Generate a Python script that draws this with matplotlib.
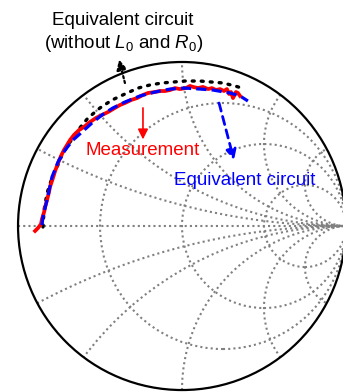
import numpy as np
import matplotlib
matplotlib.use("Agg")
import matplotlib.pyplot as plt
from matplotlib.patches import Circle

plt.rcParams['font.family'] = ['Liberation Sans', 'DejaVu Sans']
plt.rcParams['mathtext.fontset'] = 'custom'
plt.rcParams['mathtext.rm'] = 'Liberation Sans'
plt.rcParams['mathtext.it'] = 'Liberation Sans:italic'

# Smith chart grid values
r_circles = [1 / 3, 1, 3]
x_arcs = [0.25, 0.5, 1, 2, 4]

# reflection coefficient (real, imag)
meas_re = [-0.896, -0.878, -0.860, -0.854, -0.841, -0.835, -0.823, -0.811, -0.805, -0.787,
           -0.774, -0.756, -0.738, -0.720, -0.701, -0.683, -0.659, -0.628, -0.598, -0.561,
           -0.524, -0.488, -0.451, -0.409, -0.378, -0.348, -0.311, -0.274, -0.238, -0.207,
           -0.165, -0.134, -0.104, -0.073, -0.043, -0.012, 0.024, 0.049, 0.067, 0.098,
           0.128, 0.159, 0.183, 0.207, 0.232, 0.256, 0.274, 0.287, 0.299, 0.311,
           0.323, 0.329, 0.341, 0.354]
meas_im = [-0.030, -0.012, 0.012, 0.043, 0.085, 0.116, 0.159, 0.207, 0.238, 0.293,
           0.335, 0.384, 0.427, 0.463, 0.494, 0.524, 0.555, 0.585, 0.604, 0.634,
           0.659, 0.677, 0.695, 0.720, 0.738, 0.750, 0.768, 0.780, 0.799, 0.811,
           0.817, 0.823, 0.823, 0.829, 0.841, 0.835, 0.841, 0.854, 0.848, 0.841,
           0.848, 0.835, 0.841, 0.829, 0.835, 0.823, 0.835, 0.805, 0.817, 0.780,
           0.805, 0.817, 0.811, 0.793]

eq_re = [-0.854, -0.848, -0.823, -0.793, -0.756, -0.713, -0.665, -0.610, -0.549, -0.488,
         -0.421, -0.348, -0.256, -0.165, -0.073, 0.018, 0.110, 0.189, 0.293, 0.354, 0.402]
eq_im = [0.006, 0.055, 0.159, 0.299, 0.390, 0.463, 0.524, 0.573, 0.628, 0.677,
         0.720, 0.756, 0.793, 0.817, 0.835, 0.841, 0.835, 0.829, 0.811, 0.793, 0.762]

noL0_re = [-0.848, -0.841, -0.823, -0.793, -0.762, -0.732, -0.683, -0.634, -0.573, -0.500,
           -0.427, -0.348, -0.268, -0.195, -0.122, 0.018, 0.110, 0.250, 0.323, 0.384]
noL0_im = [-0.006, 0.098, 0.201, 0.293, 0.360, 0.433, 0.512, 0.585, 0.659, 0.720,
           0.768, 0.805, 0.841, 0.860, 0.872, 0.884, 0.884, 0.872, 0.854, 0.835]

fig = plt.figure(figsize=(3.43, 3.92), dpi=100)
ax = fig.add_axes([0, 0, 1, 1])
ax.set_xlim(-1.110, 0.982)
ax.set_ylim(-1.012, 1.378)
ax.axis('off')

grid_kw = dict(fill=False, ec='#808080', lw=1.5, ls=(0, (1, 1.5)))
unit = Circle((0, 0), 1, transform=ax.transData, fill=False)

for r in r_circles:
    ax.add_patch(Circle((r / (1 + r), 0), 1 / (1 + r), **grid_kw))
for x in x_arcs:
    for s in (1, -1):
        c = Circle((1, s / x), 1 / x, **grid_kw)
        ax.add_patch(c)
        c.set_clip_path(unit)
ax.plot([-1, 1], [0, 0], color='#808080', lw=1.5, ls=(0, (1, 1.5)))

ax.add_patch(Circle((0, 0), 1, fill=False, ec='black', lw=1.6, zorder=3))

ax.plot(noL0_re, noL0_im, color='black', lw=2.4, ls=(0, (0.6, 2.1)),
        dash_capstyle='round', zorder=4)
ax.plot(meas_re, meas_im, color='red', lw=2.7, zorder=5)
ax.plot(eq_re, eq_im, color='blue', lw=2.3, ls=(0, (3.2, 1.6)), zorder=6)

# pointers to each trace
ax.annotate('', xy=(-0.384, 1.015), xytext=(-0.348, 0.872),
            arrowprops=dict(arrowstyle='-|>,head_length=0.6,head_width=0.3',
                            color='black', lw=1.6, ls=(0, (1, 1.2)),
                            shrinkA=0, shrinkB=0))
ax.annotate('', xy=(-0.238, 0.528), xytext=(-0.238, 0.720),
            arrowprops=dict(arrowstyle='-|>,head_length=0.6,head_width=0.3',
                            color='red', lw=1.2, shrinkA=0, shrinkB=0))
ax.annotate('', xy=(0.317, 0.402), xytext=(0.226, 0.750),
            arrowprops=dict(arrowstyle='-|>,head_length=0.6,head_width=0.3',
                            color='blue', lw=2.0, ls=(0, (3, 2)),
                            shrinkA=0, shrinkB=0))

ax.text(-0.360, 1.256, 'Equivalent circuit', fontsize=13.5, ha='center', va='center')
ax.text(-0.355, 1.112, r'(without $L_0$ and $R_0$)', fontsize=13.5,
        ha='center', va='center')
ax.text(-0.238, 0.463, 'Measurement', color='red', fontsize=13.5,
        ha='center', va='center')
ax.text(0.384, 0.280, 'Equivalent circuit', color='blue', fontsize=13.5,
        ha='center', va='center')

fig.savefig('out.png', dpi=100)
